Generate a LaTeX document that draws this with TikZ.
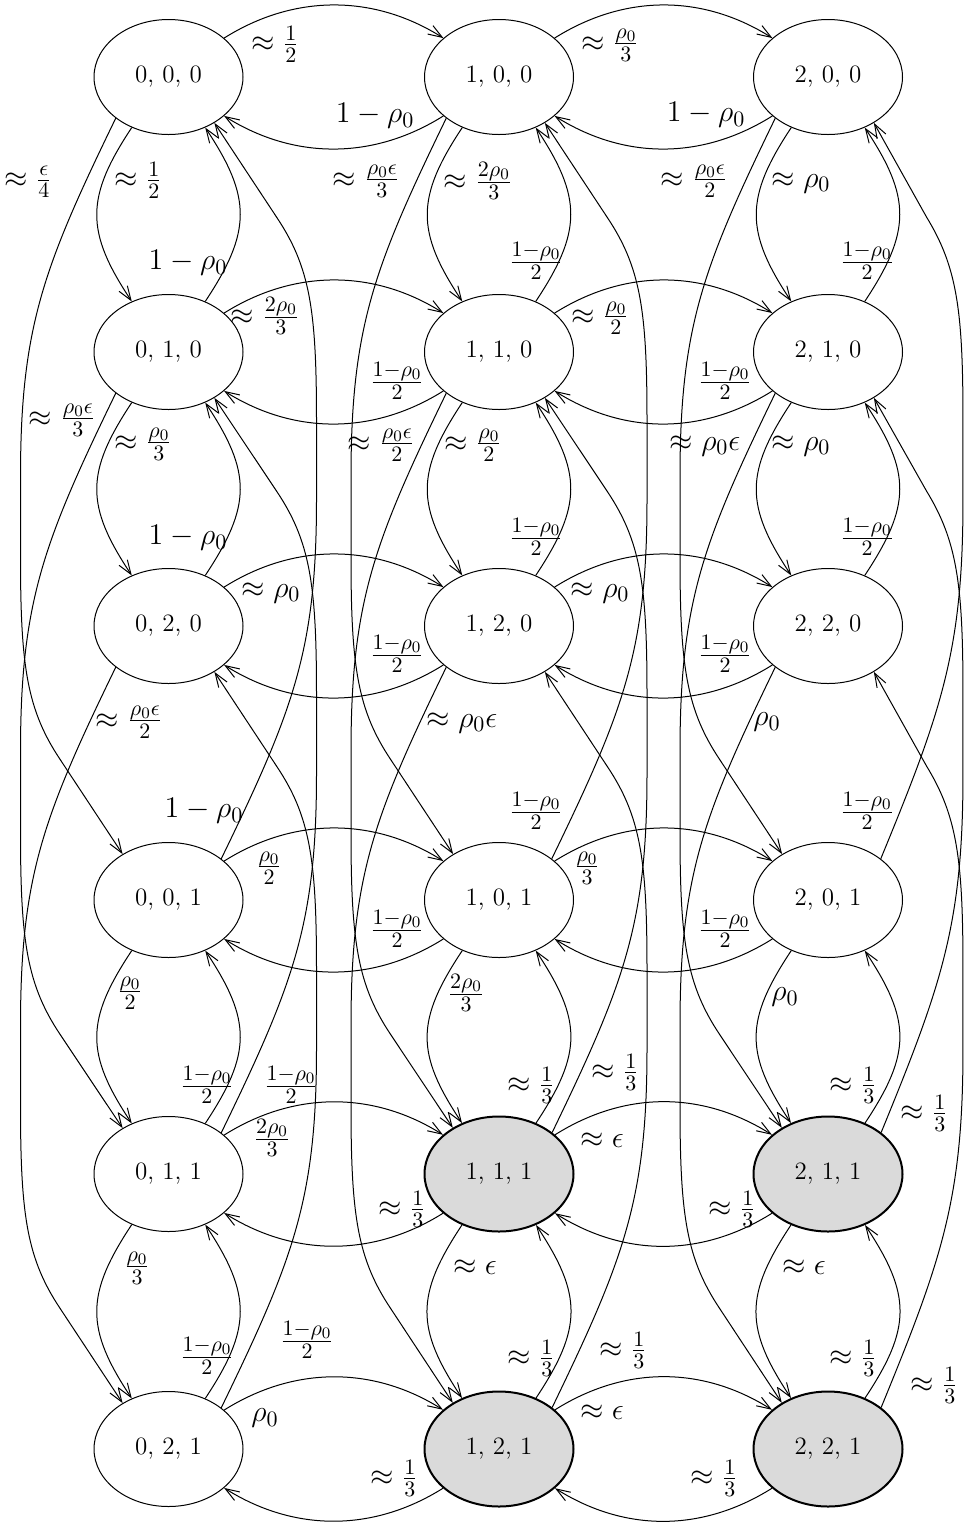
\RequirePackage{fix-cm}
\documentclass[tikz,border=0pt]{standalone}
\usetikzlibrary{shapes.geometric,arrows.meta}
\DeclareMathSizes{15}{15}{11}{8}
\definecolor{fillg}{RGB}{218,218,218}
\tikzset{
 st/.style={ellipse, draw, line width=0.5pt, minimum width=74.5pt, minimum height=57.5pt, inner sep=0pt, font=\fontsize{12.5}{15}\selectfont},
 sf/.style={st, fill=fillg, line width=1pt},
 lab/.style={inner sep=0pt, font=\fontsize{15}{18}\selectfont},
 e/.style={line width=0.5pt, -{Straight Barb[length=7pt,width=5pt]}},
}
\newcommand\hpair[2]{%
 \draw[e] (#1.35) .. controls +(70,-44) and +(-70,-44) .. (#2.145);
 \draw[e] (#2.215) .. controls +(-70,44) and +(70,44) .. (#1.325);}
\newcommand\vpair[2]{%
 \draw[e] (#1.234) .. controls +(-46.5,70) and +(-46.5,-70) .. (#2.126);
 \draw[e] (#2.54) .. controls +(46.5,-70) and +(46.5,70) .. (#1.306);}
\newcommand\ldown[4]{%
 \draw[e,shift={(#3,#4)}] (#1.218) .. controls (-125,190) and (-148,250) .. (-148,400) -- (-148,480) .. controls (-148,590) and (-141.5,633) .. (-108,683) -- (#2.135);}
\newcommand\lup[5]{%
 \draw[e,shift={(#3,#4)},xscale=#5] (#1.38) .. controls (125,-190) and (148,-250) .. (148,-400) -- (148,-480) .. controls (148,-590) and (141.5,-633) .. (108,-683) -- (#2.315);}
\begin{document}
\begin{tikzpicture}[x=0.5pt,y=-0.5pt]
\useasboundingbox (0,0) rectangle (966,1522);
% nodes
\node[st] (n000) at (168.5,77) {0, 0, 0};
\node[st] (n010) at (168.5,352) {0, 1, 0};
\node[st] (n020) at (168.5,626) {0, 2, 0};
\node[st] (n001) at (168.5,900) {0, 0, 1};
\node[st] (n011) at (168.5,1174) {0, 1, 1};
\node[st] (n021) at (168.5,1449) {0, 2, 1};
\node[st] (n100) at (499,77) {1, 0, 0};
\node[st] (n110) at (499,352) {1, 1, 0};
\node[st] (n120) at (499,626) {1, 2, 0};
\node[st] (n101) at (499,900) {1, 0, 1};
\node[sf] (n111) at (499,1174) {1, 1, 1};
\node[sf] (n121) at (499,1449) {1, 2, 1};
\node[st] (n200) at (828,77) {2, 0, 0};
\node[st] (n210) at (828,352) {2, 1, 0};
\node[st] (n220) at (828,626) {2, 2, 0};
\node[st] (n201) at (828,900) {2, 0, 1};
\node[sf] (n211) at (828,1174) {2, 1, 1};
\node[sf] (n221) at (828,1449) {2, 2, 1};
% horizontal pairs
\hpair{n000}{n100} \hpair{n100}{n200}
\hpair{n010}{n110} \hpair{n110}{n210}
\hpair{n020}{n120} \hpair{n120}{n220}
\hpair{n001}{n101} \hpair{n101}{n201}
\hpair{n011}{n111} \hpair{n111}{n211}
\hpair{n021}{n121} \hpair{n121}{n221}
% vertical pairs
\vpair{n000}{n010} \vpair{n010}{n020} \vpair{n001}{n011} \vpair{n011}{n021}
\vpair{n100}{n110} \vpair{n110}{n120} \vpair{n101}{n111} \vpair{n111}{n121}
\vpair{n200}{n210} \vpair{n210}{n220} \vpair{n201}{n211} \vpair{n211}{n221}
% long edges
\ldown{n000}{n001}{168.5}{77} \ldown{n010}{n011}{168.5}{352} \ldown{n020}{n021}{168.5}{626}
\ldown{n100}{n101}{499}{77} \ldown{n110}{n111}{499}{352} \ldown{n120}{n121}{499}{626}
\ldown{n200}{n201}{828}{77} \ldown{n210}{n211}{828}{352} \ldown{n220}{n221}{828}{626}
\lup{n001}{n000}{168.5}{900}{1} \lup{n011}{n010}{168.5}{1174}{1} \lup{n021}{n020}{168.5}{1449}{1}
\lup{n101}{n100}{499}{900}{1} \lup{n111}{n110}{499}{1174}{1} \lup{n121}{n120}{499}{1449}{1}
\lup{n201}{n200}{828}{900}{0.912} \lup{n211}{n210}{828}{1174}{0.912} \lup{n221}{n220}{828}{1449}{0.912}
% labels
\node[lab] (l1) at (275,44) {$\approx\frac{1}{2}$};
\node[lab] (l2) at (375,116) {$1-\rho_0$};
\node[lab] (l3) at (610,45) {$\approx\frac{\rho_0}{3}$};
\node[lab] (l4) at (706,115) {$1-\rho_0$};
\node[lab] (l5) at (28,182) {$\approx\frac{\epsilon}{4}$};
\node[lab] (l6) at (138,180) {$\approx\frac{1}{2}$};
\node[lab] (l7) at (188,263) {$1-\rho_0$};
\node[lab] (l8) at (366,181) {$\approx\frac{\rho_0\epsilon}{3}$};
\node[lab] (l9) at (478,181) {$\approx\frac{2\rho_0}{3}$};
\node[lab] (l10) at (536,261) {$\frac{1-\rho_0}{2}$};
\node[lab] (l11) at (694,181) {$\approx\frac{\rho_0\epsilon}{2}$};
\node[lab] (l12) at (801,183) {$\approx\rho_0$};
\node[lab] (l13) at (867,261) {$\frac{1-\rho_0}{2}$};
\node[lab] (l14) at (265,316) {$\approx\frac{2\rho_0}{3}$};
\node[lab] (l15) at (397,381) {$\frac{1-\rho_0}{2}$};
\node[lab] (l16) at (600,318) {$\approx\frac{\rho_0}{2}$};
\node[lab] (l17) at (725,381) {$\frac{1-\rho_0}{2}$};
\node[lab] (l18) at (62,420) {$\approx\frac{\rho_0\epsilon}{3}$};
\node[lab] (l19) at (143,444) {$\approx\frac{\rho_0}{3}$};
\node[lab] (l20) at (188,538) {$1-\rho_0$};
\node[lab] (l21) at (381,445) {$\approx\frac{\rho_0\epsilon}{2}$};
\node[lab] (l22) at (473,445) {$\approx\frac{\rho_0}{2}$};
\node[lab] (l23) at (536,537) {$\frac{1-\rho_0}{2}$};
\node[lab] (l24) at (705,446) {$\approx\rho_0\epsilon$};
\node[lab] (l25) at (801,446) {$\approx\rho_0$};
\node[lab] (l26) at (867,537) {$\frac{1-\rho_0}{2}$};
\node[lab] (l27) at (271,593) {$\approx\rho_0$};
\node[lab] (l28) at (397,654) {$\frac{1-\rho_0}{2}$};
\node[lab] (l29) at (600,593) {$\approx\rho_0$};
\node[lab] (l30) at (725,654) {$\frac{1-\rho_0}{2}$};
\node[lab] (l31) at (129,722) {$\approx\frac{\rho_0\epsilon}{2}$};
\node[lab] (l32) at (462,723) {$\approx\rho_0\epsilon$};
\node[lab] (l33) at (767,722) {$\rho_0$};
\node[lab] (l34) at (204,811) {$1-\rho_0$};
\node[lab] (l35) at (536,811) {$\frac{1-\rho_0}{2}$};
\node[lab] (l36) at (867,811) {$\frac{1-\rho_0}{2}$};
\node[lab] (l37) at (269,868) {$\frac{\rho_0}{2}$};
\node[lab] (l38) at (397,929) {$\frac{1-\rho_0}{2}$};
\node[lab] (l39) at (587,868) {$\frac{\rho_0}{3}$};
\node[lab] (l40) at (725,929) {$\frac{1-\rho_0}{2}$};
\node[lab] (l41) at (130,993) {$\frac{\rho_0}{2}$};
\node[lab] (l42) at (207,1085) {$\frac{1-\rho_0}{2}$};
\node[lab] (l43) at (291,1085) {$\frac{1-\rho_0}{2}$};
\node[lab] (l44) at (466,993) {$\frac{2\rho_0}{3}$};
\node[lab] (l45) at (531,1085) {$\approx\frac{1}{3}$};
\node[lab] (l46) at (615,1072) {$\approx\frac{1}{3}$};
\node[lab] (l47) at (785,997) {$\rho_0$};
\node[lab] (l48) at (853,1085) {$\approx\frac{1}{3}$};
\node[lab] (l49) at (924,1113) {$\approx\frac{1}{3}$};
\node[lab] (l50) at (272,1138) {$\frac{2\rho_0}{3}$};
\node[lab] (l51) at (602,1140) {$\approx\epsilon$};
\node[lab] (l52) at (402,1209) {$\approx\frac{1}{3}$};
\node[lab] (l53) at (732,1209) {$\approx\frac{1}{3}$};
\node[lab] (l54) at (137,1268) {$\frac{\rho_0}{3}$};
\node[lab] (l55) at (207,1356) {$\frac{1-\rho_0}{2}$};
\node[lab] (l56) at (307,1340) {$\frac{1-\rho_0}{2}$};
\node[lab] (l57) at (475,1267) {$\approx\epsilon$};
\node[lab] (l58) at (531,1358) {$\approx\frac{1}{3}$};
\node[lab] (l59) at (623,1350) {$\approx\frac{1}{3}$};
\node[lab] (l60) at (804,1267) {$\approx\epsilon$};
\node[lab] (l61) at (853,1358) {$\approx\frac{1}{3}$};
\node[lab] (l62) at (934,1385) {$\approx\frac{1}{3}$};
\node[lab] (l63) at (265,1418) {$\rho_0$};
\node[lab] (l64) at (602,1412) {$\approx\epsilon$};
\node[lab] (l65) at (394,1478) {$\approx\frac{1}{3}$};
\node[lab] (l66) at (714,1478) {$\approx\frac{1}{3}$};
\end{tikzpicture}
\end{document}
